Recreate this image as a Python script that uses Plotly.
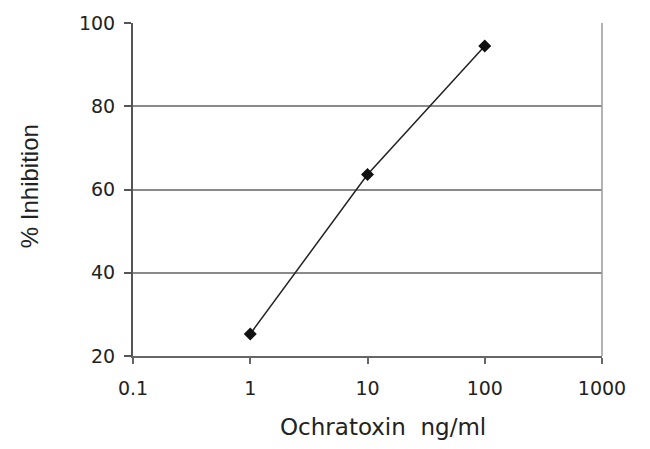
import plotly.graph_objects as go

concentration = [1, 10, 100]
inhibition = [25.3, 63.6, 94.5]
x_tick_vals = [0.1, 1, 10, 100, 1000]
x_tick_text = ["0.1", "1", "10", "100", "1000"]
y_tick_vals = [20, 40, 60, 80, 100]

fig = go.Figure()
fig.add_trace(go.Scatter(
    x=concentration, y=inhibition, mode="lines+markers",
    line=dict(color="#222222", width=1.5),
    marker=dict(symbol="diamond", size=10, color="#111111"),
    showlegend=False,
))

wide_font = "DejaVu Sans, Verdana, sans-serif"
fig.update_layout(
    width=642, height=441,
    margin=dict(l=125, r=48, t=15, b=93),
    paper_bgcolor="white", plot_bgcolor="white",
    font=dict(family=wide_font, size=19, color="#222222"),
    xaxis=dict(
        type="log", range=[-1, 3], automargin=False,
        tickvals=x_tick_vals, ticktext=x_tick_text,
        showgrid=False, zeroline=False,
        showline=True, linecolor="#666666", linewidth=2,
        ticks="outside", ticklen=6, tickcolor="#666666", tickwidth=2,
        ticklabelstandoff=8,
    ),
    yaxis=dict(
        range=[20, 100], tickvals=y_tick_vals, automargin=False,
        showgrid=True, gridcolor="#8a8a8a", gridwidth=1.5,
        zeroline=False,
        showline=True, linecolor="#555555", linewidth=2,
        ticks="outside", ticklen=7, tickcolor="#555555", tickwidth=1.5,
        ticklabelstandoff=5,
    ),
    shapes=[dict(type="line", xref="paper", yref="paper", x0=1, x1=1, y0=0, y1=1,
                 line=dict(color="#9a9a9a", width=1.5))],
    annotations=[
        dict(text="Ochratoxin&nbsp;&nbsp;ng/ml", xref="paper", yref="paper",
             x=0.533, y=-0.213, xanchor="center", yanchor="middle", showarrow=False,
             font=dict(family=wide_font, size=23, color="#222222")),
        dict(text="% Inhibition", xref="paper", yref="paper",
             x=-0.2217, y=0.51, xanchor="center", yanchor="middle", showarrow=False,
             textangle=-90,
             font=dict(family="Liberation Sans, Arial, sans-serif", size=24, color="#222222")),
    ],
)

fig.write_html("out.html")
